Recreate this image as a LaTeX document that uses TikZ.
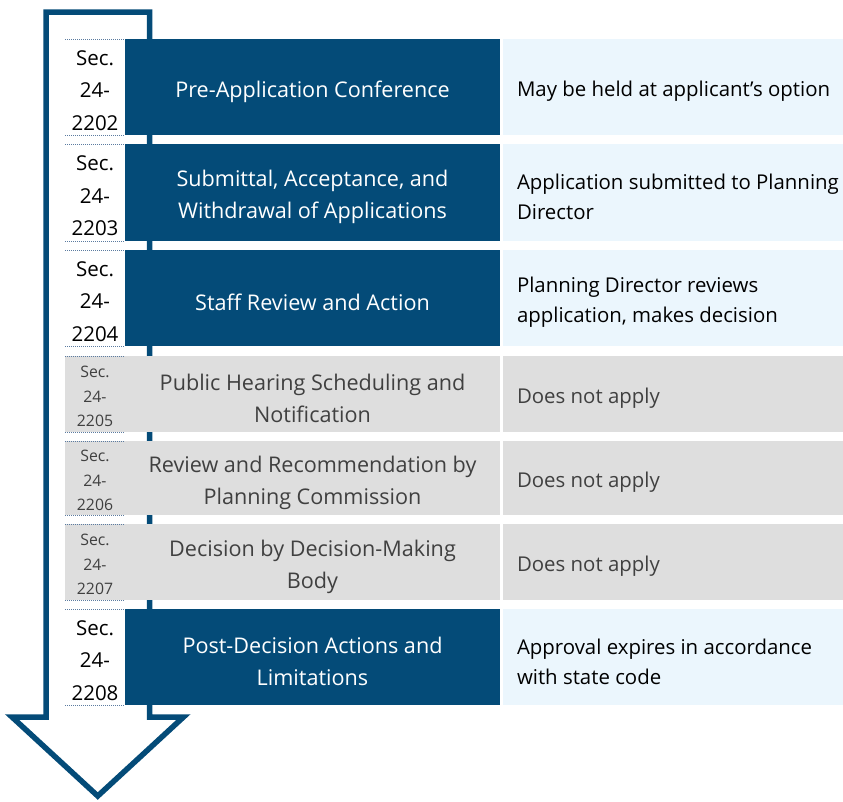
\documentclass[tikz,border=0pt]{standalone}
\usepackage{fontspec}
\setmainfont{Open Sans}
\definecolor{navy}{HTML}{044B78}
\definecolor{lightb}{HTML}{EBF6FD}
\definecolor{greyb}{HTML}{DEDEDE}
\definecolor{greyt}{HTML}{404040}
\definecolor{dotc}{HTML}{5B7BA0}
\tikzset{
  base/.style={inner sep=0pt, outer sep=0pt, anchor=center},
  darkbox/.style={base, fill=navy, minimum width=375pt},
  greybox/.style={base, fill=greyb, minimum width=375pt},
  notebox/.style={base, fill=lightb, minimum width=340pt},
  greynote/.style={base, fill=greyb, minimum width=340pt},
  secbox/.style={base, fill=white, minimum width=60pt},
  secgbox/.style={base, fill=greyb, minimum width=60pt},
  maintext/.style={base, align=center, font=\fontsize{21.6}{32}\selectfont},
  darktext/.style={maintext, text=white},
  greytext/.style={maintext, text=greyt},
  notetext/.style={base, anchor=west, align=left, font=\fontsize{20.4}{30}\selectfont},
  secdark/.style={base, text=black, align=center, font=\fontsize{20.5}{32.5}\selectfont},
  secgrey/.style={base, text=greyt, align=center, font=\fontsize{15.8}{24.5}\selectfont},
  dotline/.style={dotc, line width=1pt, dash pattern=on 1pt off 1pt},
  arrowline/.style={navy, line width=5.5pt, fill=white, line join=miter}
}
\begin{document}
\begin{tikzpicture}[x=1pt,y=-1pt]
\useasboundingbox (0,0) rectangle (843,801);
% big arrow
\draw[arrowline] (46,12) -- (149.5,12) -- (149.5,717) -- (183.5,717) -- (97.75,796) -- (12,717) -- (46,717) -- cycle;

% boxes
\node[secbox,   minimum height=96pt] (s1) at (95,87) {};
\node[darkbox,  minimum height=96pt] (b1) at (312.5,87) {};
\node[notebox,  minimum height=96pt] (n1) at (673,87) {};
\node[secbox,   minimum height=97pt] (s2) at (95,192.5) {};
\node[darkbox,  minimum height=97pt] (b2) at (312.5,192.5) {};
\node[notebox,  minimum height=97pt] (n2) at (673,192.5) {};
\node[secbox,   minimum height=96pt] (s3) at (95,298) {};
\node[darkbox,  minimum height=96pt] (b3) at (312.5,298) {};
\node[notebox,  minimum height=96pt] (n3) at (673,298) {};
\node[greybox,  minimum height=76pt] (b4) at (312.5,394) {};
\node[secgbox,  minimum height=76pt] (s4) at (95,394) {};
\node[greynote, minimum height=76pt] (n4) at (673,394) {};
\node[greybox,  minimum height=74pt] (b5) at (312.5,478) {};
\node[secgbox,  minimum height=74pt] (s5) at (95,478) {};
\node[greynote, minimum height=74pt] (n5) at (673,478) {};
\node[greybox,  minimum height=76pt] (b6) at (312.5,562) {};
\node[secgbox,  minimum height=76pt] (s6) at (95,562) {};
\node[greynote, minimum height=76pt] (n6) at (673,562) {};
\node[secbox,   minimum height=96pt] (s7) at (95,657) {};
\node[darkbox,  minimum height=96pt] (b7) at (312.5,657) {};
\node[notebox,  minimum height=96pt] (n7) at (673,657) {};

% section labels
\node[secdark] (l1) at ([yshift=-3.5pt]s1.center) {Sec.\\24-\\2202};
\node[secdark] (l2) at ([yshift=-3.5pt]s2.center) {Sec.\\24-\\2203};
\node[secdark] (l3) at ([yshift=-3.5pt]s3.center) {Sec.\\24-\\2204};
\node[secgrey] (l4) at ([yshift=-2.5pt]s4.center) {Sec.\\24-\\2205};
\node[secgrey] (l5) at ([yshift=-2.5pt]s5.center) {Sec.\\24-\\2206};
\node[secgrey] (l6) at ([yshift=-2.5pt]s6.center) {Sec.\\24-\\2207};
\node[secdark] (l7) at ([yshift=-3.5pt]s7.center) {Sec.\\24-\\2208};

% step titles
\node[darktext] (t1) at ([yshift=-4.5pt]b1.center) {Pre-Application Conference};
\node[darktext] (t2) at ([yshift=-4.5pt]b2.center) {Submittal, Acceptance, and\\Withdrawal of Applications};
\node[darktext] (t3) at ([yshift=-4.5pt]b3.center) {Staff Review and Action};
\node[greytext] (t4) at ([yshift=-4.5pt]b4.center) {Public Hearing Scheduling and\\Notification};
\node[greytext] (t5) at ([yshift=-4.5pt]b5.center) {Review and Recommendation by\\Planning Commission};
\node[greytext] (t6) at ([yshift=-4.5pt]b6.center) {Decision by Decision-Making\\Body};
\node[darktext] (t7) at ([yshift=-4.5pt]b7.center) {Post-Decision Actions and\\Limitations};

% notes
\node[notetext, text=black] (m1) at ([xshift=14pt,yshift=-4.5pt]n1.west) {May be held at applicant’s option};
\node[notetext, text=black] (m2) at ([xshift=14pt,yshift=-4.5pt]n2.west) {Application submitted to Planning\\Director};
\node[notetext, text=black] (m3) at ([xshift=14pt,yshift=-4.5pt]n3.west) {Planning Director reviews\\application, makes decision};
\node[notetext, text=greyt] (m4) at ([xshift=14pt,yshift=-4.5pt]n4.west) {Does not apply};
\node[notetext, text=greyt] (m5) at ([xshift=14pt,yshift=-4.5pt]n5.west) {Does not apply};
\node[notetext, text=greyt] (m6) at ([xshift=14pt,yshift=-4.5pt]n6.west) {Does not apply};
\node[notetext, text=black] (m7) at ([xshift=14pt,yshift=-4.5pt]n7.west) {Approval expires in accordance\\with state code};

% dotted borders of section labels
\foreach \s in {s1,s2,s3,s4,s5,s6,s7}{
  \draw[dotline] (\s.north west) -- (\s.north east);
  \draw[dotline] (\s.south west) -- (\s.south east);
}
\end{tikzpicture}
\end{document}
